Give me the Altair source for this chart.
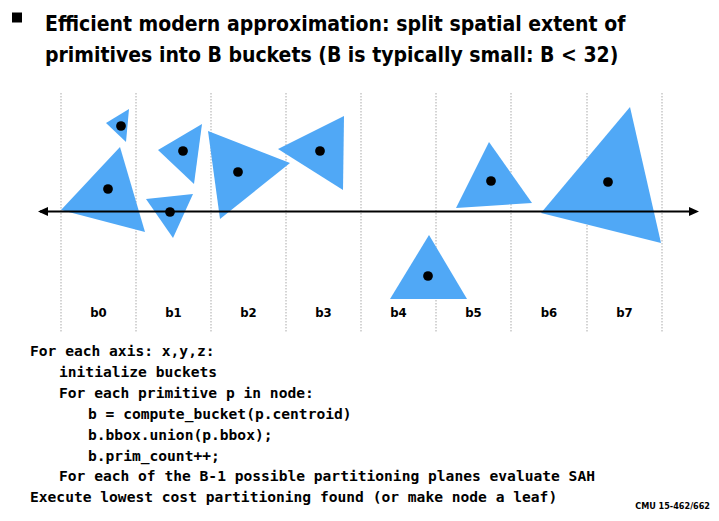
import altair as alt
import pandas as pd

# ---- diagram content (image-pixel coordinate system of the slide) ----
triangles = [
    [(106, 123), (129, 109), (126, 142)],
    [(61, 210), (120, 147), (145, 232)],
    [(158, 150), (202, 124), (194, 184)],
    [(146, 199), (193, 194), (173, 238)],
    [(208, 131), (290, 163), (220, 219)],
    [(278, 149), (344, 116), (343, 190)],
    [(390, 299), (429, 235), (467, 299)],
    [(456, 208), (489, 142), (532, 203)],
    [(541, 213), (630, 107), (661, 243)],
]
dot_x = [121, 108, 183, 170, 238, 320, 428, 491, 608]
dot_y = [126, 189, 151, 212, 172, 151, 276, 181, 182]
boundaries = [61, 136, 211, 286, 361, 436, 511, 587, 662]
bucket_labels = ["b0", "b1", "b2", "b3", "b4", "b5", "b6", "b7"]
axis_ends = [40, 694]
axis_level = 211.5

title_lines = [
    "Efficient modern approximation: split spatial extent of",
    "primitives into B buckets (B is typically small: B < 32)",
]
code_lines = [
    "For each axis: x,y,z:",
    "initialize buckets",
    "For each primitive p in node:",
    "b = compute_bucket(p.centroid)",
    "b.bbox.union(p.bbox);",
    "b.prim_count++;",
    "For each of the B-1 possible partitioning planes evaluate SAH",
    "Execute lowest cost partitioning found (or make node a leaf)",
]
code_indent = [0, 1, 1, 2, 2, 2, 1, 0]
footer = "CMU 15-462/662"

# ---- layout / style ----
W, H = 703, 505
PROJ = dict(type="identity", scale=1, translate=[-8, -8])
BLUE = "#50a8f6"
NARROW = "DejaVu Sans Condensed, Roboto, sans-serif"
MONO = "DejaVu Sans Mono, Liberation Mono, monospace"


def polygon_features(polys):
    return [
        {
            "type": "Feature",
            "properties": {"id": i},
            "geometry": {
                "type": "Polygon",
                "coordinates": [[list(p) for p in poly] + [list(poly[0])]],
            },
        }
        for i, poly in enumerate(polys)
    ]


tri_layer = (
    alt.Chart(alt.Data(values=polygon_features(triangles)))
    .mark_geoshape(fill=BLUE, strokeWidth=0)
    .project(**PROJ)
)

dots = pd.DataFrame({"x": dot_x, "y": dot_y})
dot_layer = (
    alt.Chart(dots)
    .mark_circle(size=95, color="black", opacity=1)
    .encode(longitude="x:Q", latitude="y:Q")
    .project(**PROJ)
)

grid = pd.DataFrame({"x": boundaries, "y1": 93, "y2": 332})
grid_layer = (
    alt.Chart(grid)
    .mark_rule(color="#b8b8b8", strokeWidth=1.2, strokeDash=[1.5, 1.5])
    .encode(longitude="x:Q", latitude="y1:Q", longitude2="x:Q", latitude2="y2:Q")
    .project(**PROJ)
)

axis_df = pd.DataFrame({"x1": [axis_ends[0]], "x2": [axis_ends[1]], "y": [axis_level]})
axis_layer = (
    alt.Chart(axis_df)
    .mark_rule(color="black", strokeWidth=2)
    .encode(longitude="x1:Q", latitude="y:Q", longitude2="x2:Q", latitude2="y:Q")
    .project(**PROJ)
)

heads = [
    [(38, axis_level), (48, axis_level - 4.5), (48, axis_level + 4.5)],
    [(699, axis_level), (689, axis_level - 4.5), (689, axis_level + 4.5)],
]
head_layer = (
    alt.Chart(alt.Data(values=polygon_features(heads)))
    .mark_geoshape(fill="black", strokeWidth=0)
    .project(**PROJ)
)

labels = pd.DataFrame(
    {
        "t": bucket_labels,
        "x": [(boundaries[i] + boundaries[i + 1]) / 2 for i in range(len(bucket_labels))],
        "y": 313,
    }
)
label_layer = (
    alt.Chart(labels)
    .mark_text(font=NARROW, fontSize=13, fontWeight="bold", color="black", align="center", baseline="middle")
    .encode(longitude="x:Q", latitude="y:Q", text="t:N")
    .project(**PROJ)
)

titles = pd.DataFrame({"t": title_lines, "x": 45, "y": [31, 62]})
title_layer = (
    alt.Chart(titles)
    .mark_text(font=NARROW, fontSize=21, fontWeight="bold", color="black", align="left", baseline="alphabetic")
    .encode(longitude="x:Q", latitude="y:Q", text="t:N")
    .project(**PROJ)
)

bullet = pd.DataFrame({"x": [17], "y": [17.5]})
bullet_layer = (
    alt.Chart(bullet)
    .mark_square(size=100, color="black", opacity=1, filled=True)
    .encode(longitude="x:Q", latitude="y:Q")
    .project(**PROJ)
)

code = pd.DataFrame(
    {
        "t": code_lines,
        "x": [30 + 29 * k for k in code_indent],
        "y": [352 + 20.9 * i for i in range(len(code_lines))],
    }
)
code_layer = (
    alt.Chart(code)
    .mark_text(font=MONO, fontSize=14.6, fontWeight="bold", color="black", align="left", baseline="middle")
    .encode(longitude="x:Q", latitude="y:Q", text="t:N")
    .project(**PROJ)
)

foot = pd.DataFrame({"t": [footer], "x": [710], "y": [506]})
foot_layer = (
    alt.Chart(foot)
    .mark_text(font=NARROW, fontSize=9, fontWeight="bold", color="black", align="right", baseline="middle")
    .encode(longitude="x:Q", latitude="y:Q", text="t:N")
    .project(**PROJ)
)

chart = (
    alt.layer(
        grid_layer, tri_layer, axis_layer, head_layer, dot_layer,
        label_layer, title_layer, bullet_layer, code_layer, foot_layer,
    )
    .properties(width=W, height=H, padding=0, autosize="none", background="white")
    .configure_view(strokeWidth=0)
)

chart.save("out.html", embed_options={"renderer": "svg", "actions": False})
